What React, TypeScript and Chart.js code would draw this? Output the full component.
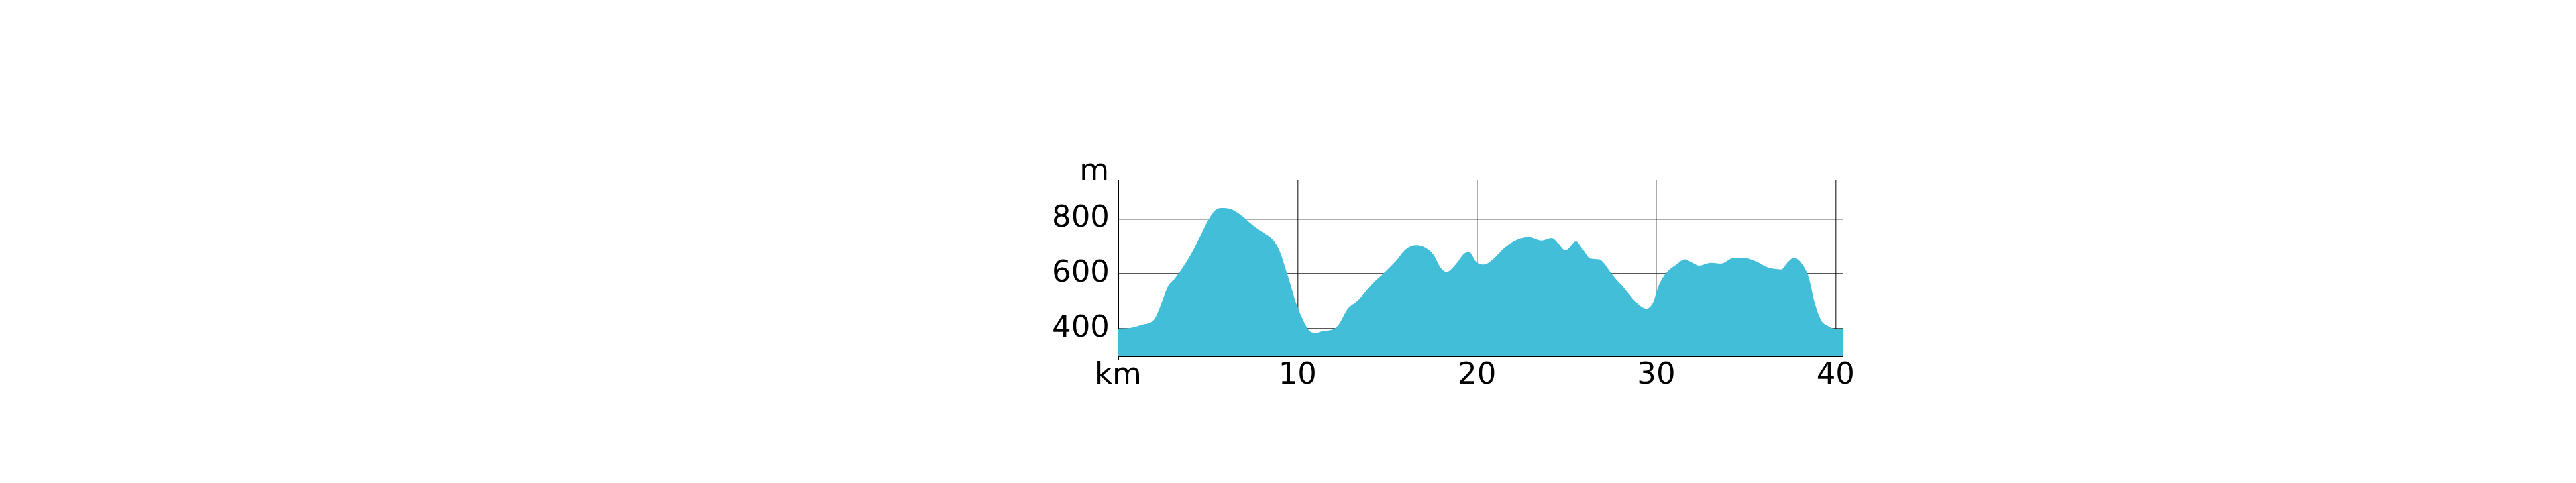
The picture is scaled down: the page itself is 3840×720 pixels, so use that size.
import React, { useEffect, useRef } from "react";
import { Chart, registerables } from "chart.js";

Chart.register(...registerables);

const distanceKm = [0, 0.75, 1.42, 1.84, 2.09, 2.42, 2.76, 3.18, 3.93, 4.6, 5.1, 5.43, 5.77, 6.27, 6.94, 7.44, 8.11, 8.61, 8.95, 9.45, 9.95, 10.37, 10.7, 11.04, 11.45, 11.96, 12.29, 12.79, 13.38, 14.13, 14.8, 15.47, 16.05, 16.64, 17.14, 17.56, 17.98, 18.31, 18.81, 19.31, 19.57, 19.98, 20.39, 20.89, 21.53, 22.24, 22.89, 23.6, 24.17, 24.53, 24.93, 25.53, 25.89, 26.32, 26.82, 27.1, 27.53, 28.25, 28.89, 29.46, 29.82, 30.11, 30.54, 31.1, 31.6, 31.97, 32.39, 33.04, 33.61, 34.25, 34.82, 35.54, 36.18, 36.97, 37.33, 37.68, 38.11, 38.47, 38.83, 39.19, 39.54, 39.97, 40.4];
const elevationM = [400, 404, 416, 424, 443, 496, 553, 585, 658, 740, 805, 833, 840, 836, 809, 780, 748, 724, 691, 594, 488, 423, 390, 385, 392, 397, 415, 472, 504, 561, 602, 646, 691, 705, 695, 671, 622, 607, 634, 675, 679, 642, 634, 653, 695, 724, 733, 721, 730, 711, 686, 718, 691, 656, 653, 638, 598, 545, 496, 473, 496, 553, 602, 633, 653, 642, 630, 640, 637, 657, 659, 646, 624, 616, 642, 659, 638, 593, 496, 431, 411, 400, 400];

const xTicks = [0, 10, 20, 30, 40];
const yTicks = [400, 600, 800];
const xUnitLabel = "km";
const yUnitLabel = "m";

const FONT = "'DejaVu Sans', sans-serif";

export default function App() {
  const ref = useRef<HTMLCanvasElement | null>(null);

  useEffect(() => {
    if (!ref.current) return;
    const unitPlugin = {
      id: "unitLabels",
      afterDraw(chart: any) {
        const { ctx, chartArea } = chart;
        ctx.save();
        ctx.fillStyle = "#000";
        ctx.font = `45px ${FONT}`;
        ctx.textAlign = "right";
        ctx.textBaseline = "alphabetic";
        ctx.fillText(yUnitLabel, chartArea.left - 14, chartArea.top - 1);
        ctx.strokeStyle = "#000";
        ctx.lineWidth = 2;
        ctx.beginPath();
        ctx.moveTo(chartArea.left, chartArea.bottom);
        ctx.lineTo(chartArea.left, chartArea.bottom + 6);
        ctx.stroke();
        ctx.restore();
      },
    };

    const chart = new Chart(ref.current, {
      type: "line",
      data: {
        datasets: [
          {
            data: distanceKm.map((x, i) => ({ x, y: elevationM[i] })),
            borderWidth: 0,
            borderColor: "rgba(0,0,0,0)",
            backgroundColor: "#43BED9",
            fill: "start",
            pointRadius: 0,
            cubicInterpolationMode: "monotone",
          },
        ],
      },
      options: {
        responsive: false,
        animation: false,
        devicePixelRatio: 1,
        layout: { padding: { left: 0, top: 269, right: 1093, bottom: 0 } },
        plugins: { legend: { display: false }, tooltip: { enabled: false } },
        scales: {
          x: {
            type: "linear",
            min: 0,
            max: 40.4,
            afterBuildTicks: (scale: any) => {
              scale.ticks = xTicks.map((v) => ({ value: v }));
            },
            afterFit: (scale: any) => {
              scale.height = 189;
            },
            ticks: {
              autoSkip: false,
              maxRotation: 0,
              padding: 2,
              color: "#000",
              font: { family: FONT, size: 45 },
              callback: (v: any) => (Number(v) === 0 ? xUnitLabel : String(v)),
            },
            grid: { drawTicks: false, color: "rgba(0,0,0,0.65)", lineWidth: 1.5 },
            border: { display: true, color: "#000", width: 2 },
          },
          y: {
            min: 300,
            max: 940,
            afterBuildTicks: (scale: any) => {
              scale.ticks = yTicks.map((v) => ({ value: v }));
            },
            afterFit: (scale: any) => {
              scale.width = 1667;
            },
            ticks: {
              padding: 13,
              color: "#000",
              font: { family: FONT, size: 45 },
            },
            grid: { drawTicks: false, color: "rgba(0,0,0,0.65)", lineWidth: 1.5 },
            border: { display: true, color: "#000", width: 2 },
          },
        },
      },
      plugins: [unitPlugin],
    });
    return () => chart.destroy();
  }, []);

  return (
    <div style={{ position: "absolute", left: 0, top: 0, width: 3840, height: 720 }}>
      <canvas ref={ref} width={3840} height={720} style={{ display: "block", width: 3840, height: 720 }} />
    </div>
  );
}
